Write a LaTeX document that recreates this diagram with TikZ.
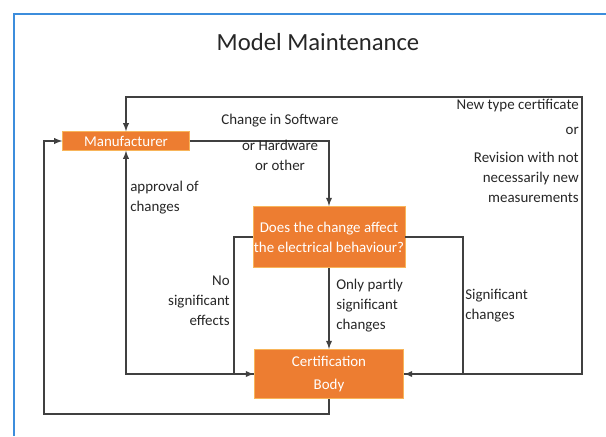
\documentclass[tikz,border=0pt]{standalone}
\usepackage{fontspec}
\setmainfont{Carlito}
\usetikzlibrary{arrows,positioning,calc}
\definecolor{boxorange}{HTML}{ED7D31}
\definecolor{boxedge}{HTML}{F8B55A}
\definecolor{linegray}{HTML}{404040}
\definecolor{frameblue}{HTML}{3C8DDC}
\definecolor{txtgray}{HTML}{262626}
\tikzset{
	orangebox/.style={draw=boxedge,line width=0.6pt,fill=boxorange,text=white,align=center,inner sep=0pt,font=\fontsize{11.2}{15}\selectfont},
	flow/.style={draw=linegray,line width=1.1pt,-latex},
	lbl/.style={text=txtgray,inner sep=0pt,font=\fontsize{11.2}{15}\selectfont}
}
\begin{document}
\begin{tikzpicture}[x=0.75pt,y=-0.75pt]
	\useasboundingbox (0,0) rectangle (606,436);
	\draw[frameblue,line width=1.6pt] (14,436) -- (14,14) -- (606,14);
	\node[text=txtgray,font=\fontsize{18.5}{22}\selectfont] (title) at (318,42) {Model Maintenance};
	% boxes
	\node[orangebox,minimum width=95pt,minimum height=14pt] (manufacturer) at (126,141) {Manufacturer};
	\node[orangebox,minimum width=114pt,minimum height=46pt] (question) at (329,237) {Does the change affect\\the electrical behaviour?};
	\node[orangebox,minimum width=112pt,minimum height=37pt] (certbody) at (329,374) {Certification\\[2pt]Body};
	% connectors
	\draw[flow] (manufacturer.east) -| (question.north);
	\draw[flow] (question.south) -- (certbody.north);
	\draw[flow] (question.west) -- (234,237) |- (certbody.west);
	\draw[flow] (question.east) -- (463,237) |- (certbody.east);
	\draw[flow] (certbody.west) -- (manufacturer.south |- certbody.west) -- (manufacturer.south);
	\draw[flow] (certbody.east) -- (582,374) -- (582,97) -| (manufacturer.north);
	\draw[flow] (certbody.south) -- (329,414) -| (44,141) -- (manufacturer.west);
	% labels
	\node[lbl,align=center] (changelbl) at (280,142) {Change in Software\\[4.5pt]or Hardware\\or other};
	\node[lbl,align=right,anchor=east] (typelbl) at (579,151) {New type certificate\\[4pt]or\\[6pt]Revision with not\\necessarily new\\measurements};
	\node[lbl,align=left,anchor=west] (approvallbl) at (130,198) {approval of\\changes};
	\node[lbl,align=right,anchor=east] (nolbl) at (230,301) {No\\significant\\effects};
	\node[lbl,align=left,anchor=west] (partlbl) at (336,306) {Only partly\\significant\\changes};
	\node[lbl,align=left,anchor=west] (siglbl) at (465,306) {Significant\\changes};
\end{tikzpicture}
\end{document}
